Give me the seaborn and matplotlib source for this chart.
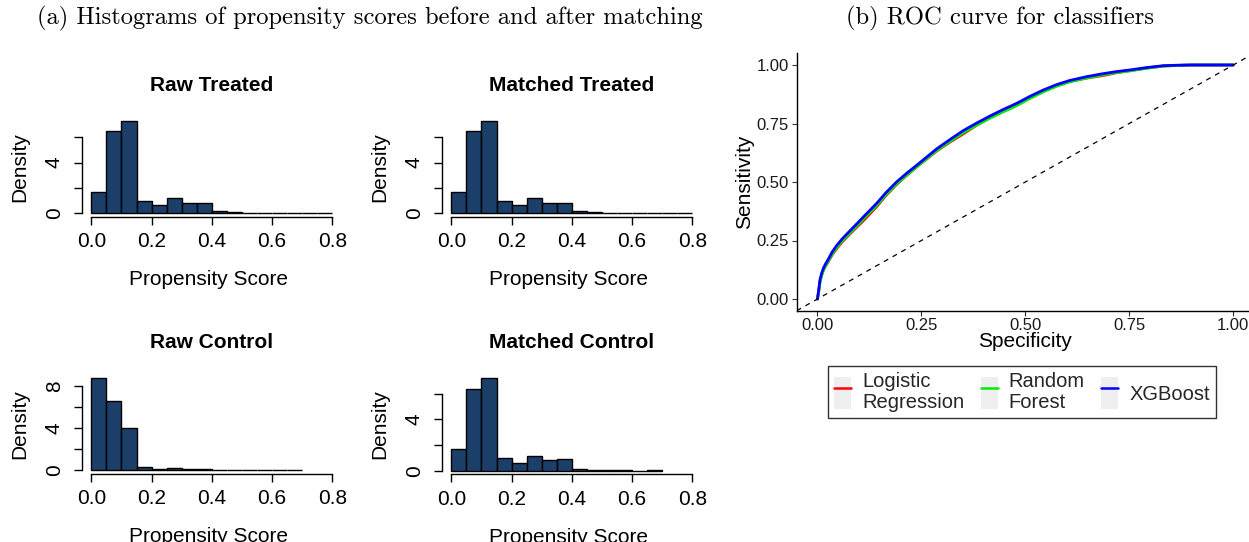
import numpy as np
import pandas as pd
import matplotlib
matplotlib.use("Agg")
import matplotlib.pyplot as plt
import seaborn as sns
from matplotlib.patches import Patch
from matplotlib.lines import Line2D
from matplotlib.legend_handler import HandlerTuple

# ---------------- data ----------------
bin_edges = [0.0, 0.05, 0.10, 0.15, 0.20, 0.25, 0.30, 0.35, 0.40,
             0.45, 0.50, 0.55, 0.60, 0.65, 0.70, 0.75, 0.80]

raw_treated = [1.69, 6.48, 7.30, 0.98, 0.61, 1.16, 0.79, 0.76,
               0.16, 0.08, 0.03, 0.03, 0.03, 0.01, 0.01, 0.04]
matched_treated = [1.69, 6.48, 7.30, 0.98, 0.61, 1.16, 0.79, 0.76,
                   0.16, 0.08, 0.03, 0.03, 0.03, 0.01, 0.01, 0.04]
raw_control = [8.73, 6.55, 4.00, 0.35, 0.16, 0.22, 0.16, 0.10,
               0.05, 0.04, 0.02, 0.02, 0.02, 0.02]
matched_control = [1.69, 6.39, 7.19, 1.01, 0.62, 1.14, 0.83, 0.88,
                   0.16, 0.05, 0.03, 0.03, 0.01, 0.03]

hist_titles = ["Raw Treated", "Matched Treated", "Raw Control", "Matched Control"]

roc_fpr = [0.0, 0.003, 0.006, 0.010, 0.015, 0.020, 0.026, 0.035, 0.046, 0.060,
           0.079, 0.095, 0.110, 0.125, 0.143, 0.165, 0.190, 0.215, 0.239, 0.263,
           0.287, 0.320, 0.351, 0.383, 0.415, 0.447, 0.479, 0.511, 0.543, 0.575,
           0.607, 0.647, 0.687, 0.720, 0.752, 0.792, 0.832, 0.864, 0.896, 0.950, 1.0]
roc_xgb = [0.0, 0.040, 0.082, 0.110, 0.135, 0.152, 0.170, 0.200, 0.228, 0.258,
           0.293, 0.322, 0.350, 0.377, 0.410, 0.455, 0.500, 0.538, 0.572, 0.607,
           0.642, 0.683, 0.720, 0.752, 0.782, 0.810, 0.836, 0.866, 0.893, 0.916,
           0.934, 0.950, 0.963, 0.972, 0.979, 0.989, 0.997, 0.999, 1.0, 1.0, 1.0]
roc_rf = [0.0, 0.032, 0.070, 0.100, 0.126, 0.144, 0.162, 0.191, 0.219, 0.249,
          0.284, 0.313, 0.341, 0.368, 0.401, 0.446, 0.491, 0.530, 0.565, 0.600,
          0.635, 0.675, 0.711, 0.743, 0.773, 0.800, 0.826, 0.857, 0.885, 0.909,
          0.928, 0.944, 0.958, 0.968, 0.975, 0.986, 0.995, 0.998, 1.0, 1.0, 1.0]
roc_lr = [0.0, 0.035, 0.075, 0.103, 0.127, 0.143, 0.160, 0.188, 0.215, 0.245,
          0.280, 0.308, 0.334, 0.362, 0.396, 0.443, 0.489, 0.529, 0.565, 0.599,
          0.633, 0.672, 0.706, 0.743, 0.775, 0.803, 0.830, 0.860, 0.888, 0.911,
          0.930, 0.944, 0.955, 0.967, 0.976, 0.987, 0.996, 0.998, 1.0, 1.0, 1.0]
model_names = ["Logistic\nRegression", "Random\nForest", "XGBoost"]
model_colors = ["#FF0000", "#00EE00", "#0000FF"]

# ---------------- figure ----------------
sns.set_theme(style="white")
plt.rcParams["font.family"] = ["Liberation Sans", "DejaVu Sans"]

W, H = 1249, 542
fig = plt.figure(figsize=(W / 100, H / 100), dpi=100)


def add_px_axes(left, top, right, bottom):
    return fig.add_axes([left / W, 1 - bottom / H, (right - left) / W, (bottom - top) / H])


BAR = "#1B3F68"
FS = 15

hist_specs = [
    (raw_treated, 81.7, 117.3, 216.7, [0, 2, 4, 6], ["0", "", "4", ""]),
    (matched_treated, 441.7, 117.3, 216.7, [0, 2, 4, 6], ["0", "", "4", ""]),
    (raw_control, 81.7, 374.6, 474.0, [0, 2, 4, 6, 8], ["0", "", "4", "", "8"]),
    (matched_control, 441.7, 374.7, 474.4, [0, 2, 4, 6], ["0", "", "4", ""]),
]

for (vals, left, top, bottom, yt, ytl), title in zip(hist_specs, hist_titles):
    ax = add_px_axes(left, top, left + 260.3, bottom)
    n = len(vals)
    edges = bin_edges[: n + 1]
    centers = [(edges[i] + edges[i + 1]) / 2 for i in range(n)]
    sns.histplot(x=centers, weights=vals, bins=edges, stat="count",
                 color=BAR, edgecolor="black", linewidth=1.0, alpha=1.0, ax=ax)
    ymax = max(vals)
    ax.set_xlim(-0.032, 0.832)
    ax.set_ylim(-0.04 * ymax, 1.04 * ymax)
    for s in ["top", "right"]:
        ax.spines[s].set_visible(False)
    for s in ["left", "bottom"]:
        ax.spines[s].set_color("black")
        ax.spines[s].set_linewidth(1.0)
    ax.spines["left"].set_bounds(yt[0], yt[-1])
    ax.spines["bottom"].set_bounds(0, 0.8)
    ax.set_xticks([0.0, 0.2, 0.4, 0.6, 0.8])
    ax.set_xticklabels(["0.0", "0.2", "0.4", "0.6", "0.8"])
    ax.set_yticks(yt)
    ax.set_yticklabels(ytl, rotation=90, va="center")
    ax.tick_params(axis="both", direction="out", length=6, width=1.0,
                   colors="black", labelsize=FS, left=True, bottom=True)
    ax.tick_params(axis="x", pad=5)
    ax.tick_params(axis="y", pad=7)
    ax.set_xlabel("Propensity Score", fontsize=FS, color="black")
    ax.set_ylabel("Density", fontsize=FS, color="black")
    ax.xaxis.set_label_coords(0.487, -0.535)
    ax.yaxis.set_label_coords(-0.20, 0.5)
    ax.set_title(title, fontsize=FS, fontweight="bold", color="black", y=1.185)
    ax.grid(False)

# ROC panel
ax = add_px_axes(796.7, 53.3, 1254.0, 310.7)
npts = len(roc_fpr)
roc_df = pd.DataFrame({
    "fpr": roc_fpr * 3,
    "tpr": roc_lr + roc_rf + roc_xgb,
    "model": [model_names[0]] * npts + [model_names[1]] * npts + [model_names[2]] * npts,
})
sns.lineplot(data=roc_df, x="fpr", y="tpr", hue="model", palette=model_colors,
             hue_order=model_names, sort=False, linewidth=2.0, ax=ax, legend=False,
             estimator=None)
ax.axline((0, 0), (1, 1), color="black", linestyle=(0, (4, 4)), linewidth=0.9)
ax.set_xlim(-0.05, 1.05)
ax.set_ylim(-0.05, 1.05)
for s in ["top", "right"]:
    ax.spines[s].set_visible(False)
for s in ["left", "bottom"]:
    ax.spines[s].set_color("black")
    ax.spines[s].set_linewidth(1.0)
ticks = [0.0, 0.25, 0.5, 0.75, 1.0]
tl = ["0.00", "0.25", "0.50", "0.75", "1.00"]
ax.set_xticks(ticks)
ax.set_xticklabels(tl)
ax.set_yticks(ticks)
ax.set_yticklabels(tl)
ax.tick_params(axis="both", direction="out", length=3.5, width=0.8,
               colors="#333333", labelcolor="#1a1a1a", labelsize=12, left=True,
               bottom=True, pad=2)
ax.set_xlabel("Specificity", fontsize=15, color="black", labelpad=-1)
ax.set_ylabel("Sensitivity", fontsize=15, color="black", labelpad=2)
ax.grid(False)

handles = [(Patch(facecolor="#EFEFEF", edgecolor="none"),
            Line2D([], [], color=c, linewidth=1.8)) for c in model_colors]
leg = fig.legend(handles, model_names, ncol=3, loc="center",
                 bbox_to_anchor=(1022 / W, 1 - 392 / H),
                 handler_map={tuple: HandlerTuple(ndivide=1, pad=0)},
                 fontsize=14.5, frameon=True, fancybox=False, edgecolor="black",
                 handlelength=0.85, handleheight=2.1, handletextpad=0.55,
                 columnspacing=0.8, borderpad=0.3, borderaxespad=0, labelspacing=0.2)
leg.get_frame().set_linewidth(1.0)
for t in leg.get_texts():
    t.set_linespacing(1.1)

# captions
cap_kw = dict(family="cmr10", fontsize=17.7, color="black", ha="center", va="center")
fig.text(370 / W, 1 - 18 / H, "(a) Histograms of propensity scores before and after matching", **cap_kw)
fig.text(1000 / W, 1 - 18 / H, "(b) ROC curve for classifiers", **cap_kw)

fig.savefig("out.png", dpi=100)
